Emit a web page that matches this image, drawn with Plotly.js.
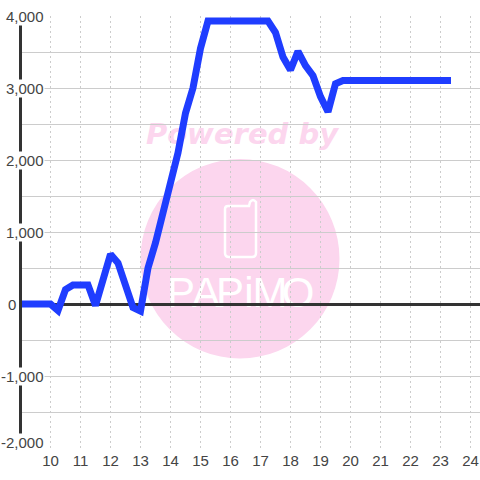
<!DOCTYPE html>
<html>
<head>
<meta charset="utf-8">
<script src="https://cdn.plot.ly/plotly-3.0.1.min.js"></script>
<style>html,body{margin:0;padding:0;background:#fff}#c{width:480px;height:480px}</style>
</head>
<body>
<div id="c"></div>
<script>
const hours = [9,9.25,9.5,9.75,10,10.25,10.5,10.75,11,11.25,11.5,11.75,12,12.25,12.5,12.75,13,13.25,13.5,13.75,14,14.25,14.5,14.75,15,15.25,15.5,15.75,16,16.25,16.5,16.75,17,17.25,17.5,17.75,18,18.25,18.5,18.75,19,19.25,19.5,19.75,20,20.25,20.5,20.75,21,21.25,21.5,21.75,22,22.25,22.5,22.75,23,23.35];
const values = [0,0,0,0,0,-90,200,265,265,265,-20,370,690,570,270,-50,-100,500,850,1250,1700,2100,2650,3000,3550,3930,3930,3930,3930,3930,3930,3930,3930,3930,3770,3430,3250,3510,3310,3170,2880,2670,3060,3105,3105,3105,3105,3105,3105,3105,3105,3105,3105,3105,3105,3105,3105,3105];
const yTickValues = [4000,3000,2000,1000,0,-1000,-2000];
const yTickLabels = ['4,000','3,000','2,000','1,000','0','-1,000','-2,000'];
const xTickValues = [10,11,12,13,14,15,16,17,18,19,20,21,22,23,24];
const logoLetters = ['P','A','P','i','M','O'];

const L=22,B=448,W=458,H=432;
const fx=p=>(p-L)/W, fy=p=>(B-p)/H;
const pink='#fcd6ee';
const shapes=[
 {type:'circle',xref:'paper',yref:'paper',layer:'below',x0:fx(140.5),x1:fx(339.5),y0:fy(358.5),y1:fy(159),fillcolor:pink,line:{width:0}},
 {type:'rect',xref:'paper',yref:'paper',layer:'below',x0:fx(142),x1:fx(342),y0:fy(149),y1:fy(115),line:{width:0},fillcolor:'rgba(0,0,0,0)',
  label:{text:'<b><i>Powered by</i></b>',font:{family:'DejaVu Sans',size:29,color:pink},textposition:'middle center'}},
 {type:'path',xref:'paper',yref:'paper',layer:'below',line:{color:'#fff',width:2.5},fillcolor:'rgba(0,0,0,0)',
  path:`M ${fx(249)} ${fy(206)} L ${fx(228)} ${fy(206)} Q ${fx(225)} ${fy(206)} ${fx(225)} ${fy(209)} L ${fx(225)} ${fy(253)} Q ${fx(225)} ${fy(257)} ${fx(229)} ${fy(257)} L ${fx(252)} ${fy(257)} Q ${fx(256)} ${fy(257)} ${fx(256)} ${fy(253)} L ${fx(256)} ${fy(202)} Q ${fx(253)} ${fy(198)} ${fx(250)} ${fy(202)} Z`}
];
const letterCentres=[181,206,230,249,270,298];
logoLetters.forEach((t,i)=>shapes.push({type:'rect',xref:'paper',yref:'paper',layer:'below',
  x0:fx(letterCentres[i]-20),x1:fx(letterCentres[i]+20),y0:fy(309),y1:fy(267),line:{width:0},fillcolor:'rgba(0,0,0,0)',
  label:{text:t,font:{family:'Liberation Sans Narrow, Liberation Sans',size:42,color:'#fff'},textposition:'middle center'}}));

const annotations=yTickValues.map((v,i)=>({
  xref:'paper',yref:'y',x:fx(v===0?17:45),y:v,xanchor:'right',yanchor:'middle',showarrow:false,
  yshift:v===-2000?6:0,text:yTickLabels[i],font:{family:'Liberation Sans',size:15,color:'#444'},
  bgcolor:v===0?'rgba(0,0,0,0)':'#fff',borderpad:0
}));

Plotly.newPlot('c',[{
  type:'scatter',mode:'lines',x:hours,y:values,
  line:{color:'#1f3dff',width:7,shape:'linear'},hoverinfo:'skip'
}],{
  width:480,height:480,showlegend:false,
  paper_bgcolor:'#fff',plot_bgcolor:'rgba(0,0,0,0)',
  margin:{l:L,r:0,t:16,b:32,pad:0},
  font:{family:'Liberation Sans',size:15,color:'#444'},
  xaxis:{range:[9.05,24.317],tickvals:xTickValues,ticks:'',showgrid:true,gridcolor:'#ccc',griddash:'2px,3px',gridwidth:1,zeroline:false,showline:false,tickfont:{size:15,color:'#444'},ticklabelstandoff:2},
  yaxis:{range:[-2000,4000],dtick:500,showticklabels:false,ticks:'',showgrid:true,gridcolor:'#ccc',gridwidth:1,zeroline:true,zerolinecolor:'#333',zerolinewidth:3,showline:true,linecolor:'#333',linewidth:3},
  shapes,annotations
},{staticPlot:true,displayModeBar:false});
</script>
</body>
</html>
